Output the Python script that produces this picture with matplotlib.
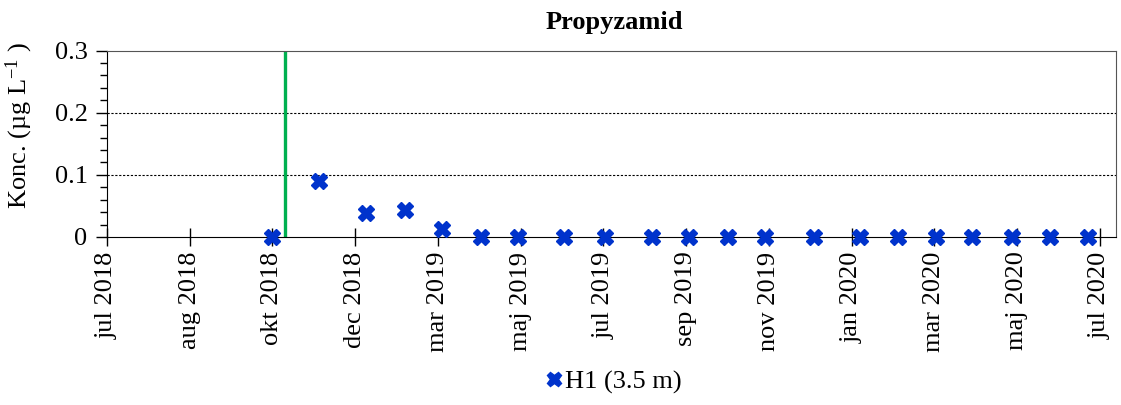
import matplotlib
matplotlib.use("Agg")
import matplotlib.pyplot as plt
import matplotlib.dates as mdates
import numpy as np
import pandas as pd
from matplotlib.ticker import MultipleLocator, FixedLocator, FixedFormatter

plt.rcParams['font.family'] = ['Liberation Serif', 'DejaVu Serif']
plt.rcParams['mathtext.fontset'] = 'custom'
plt.rcParams['mathtext.rm'] = 'Liberation Serif'
plt.rcParams['mathtext.it'] = 'Liberation Serif'

# sample dates and concentrations (H1, 3.5 m)
dates = pd.to_datetime([
    "2018-10-31", "2018-12-04", "2019-01-08", "2019-02-06", "2019-03-05",
    "2019-04-03", "2019-04-30", "2019-06-03", "2019-07-03", "2019-08-07",
    "2019-09-03", "2019-10-02", "2019-10-29", "2019-12-04", "2020-01-07",
    "2020-02-04", "2020-03-03", "2020-03-30", "2020-04-28", "2020-05-26",
    "2020-06-23",
])
conc = [0.0, 0.09, 0.038, 0.044, 0.013,
        0.0, 0.0, 0.0, 0.0, 0.0,
        0.0, 0.0, 0.0, 0.0, 0.0,
        0.0, 0.0, 0.0, 0.0, 0.0,
        0.0]

application_date = pd.Timestamp("2018-11-09")

tick_dates = pd.date_range("2018-07-01", periods=13, freq="61D")
tick_labels = ["jul 2018", "aug 2018", "okt 2018", "dec 2018", "mar 2019",
               "maj 2019", "jul 2019", "sep 2019", "nov 2019", "jan 2020",
               "mar 2020", "maj 2020", "jul 2020"]

FS = 19

fig = plt.figure(figsize=(11.21, 4.05), dpi=100)
ax = fig.add_axes([107 / 1121, 1 - 237 / 405, 1009 / 1121, 186.4 / 405])

ax.axvline(application_date, color="#00B050", lw=2.4, zorder=2)
ax.plot(dates, conc, linestyle="none", marker="X", markersize=12,
        color="#0033CC", markeredgecolor="#0033CC", label="H1 (3.5 m)",
        zorder=3, clip_on=False)

ax.set_xlim(pd.Timestamp("2018-07-01"), pd.Timestamp("2020-07-14"))
ax.set_ylim(0, 0.3)

ax.xaxis.set_major_locator(FixedLocator(mdates.date2num(tick_dates)))
ax.xaxis.set_major_formatter(FixedFormatter(tick_labels))
ax.yaxis.set_minor_locator(MultipleLocator(0.02))
ax.set_yticks([0, 0.1, 0.2, 0.3])
ax.set_yticklabels(["0", "0.1", "0.2", "0.3"])

ax.tick_params(axis="x", direction="inout", length=13, width=1, pad=4,
               labelsize=FS, labelrotation=90)
ax.tick_params(axis="y", which="major", direction="out", length=8, width=1,
               pad=6, labelsize=FS)
ax.tick_params(axis="y", which="minor", direction="out", length=5, width=1)

for y in [0.1, 0.2]:
    ax.axhline(y, color="black", lw=0.8, linestyle=(0, (2, 1.5)), zorder=1)

for side in ["top", "right"]:
    ax.spines[side].set_color("#555555")
ax.spines["bottom"].set_color("black")
ax.spines["left"].set_color("black")

ax.set_ylabel("Konc. (µg L$^{-1}$ )", fontsize=FS)
ax.yaxis.set_label_coords(-0.071, 0.60)
fig.text(614 / 1121, 1 - 22 / 405, "Propyzamid", ha="center", va="center",
         fontsize=FS, fontweight="bold")

fig.legend(loc="center", bbox_to_anchor=(614 / 1121, 1 - 382 / 405),
           frameon=False, fontsize=FS, handlelength=0.6, handletextpad=0.1,
           markerscale=0.85)

fig.savefig("out.png", dpi=100)
